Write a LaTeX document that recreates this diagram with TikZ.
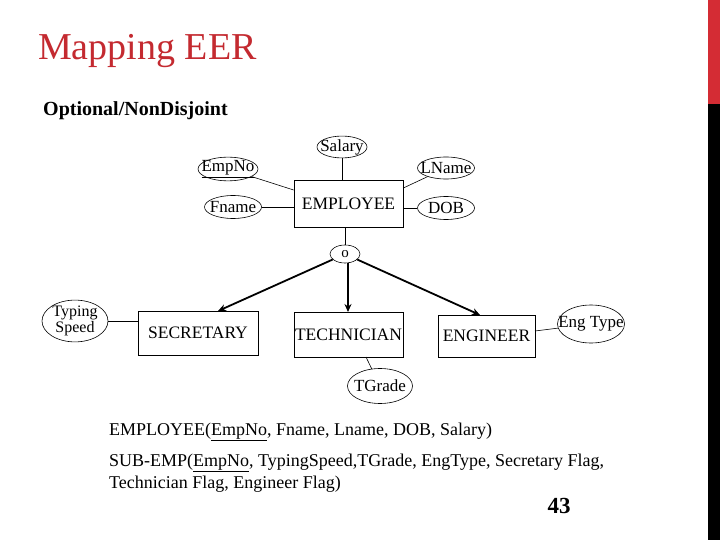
\documentclass[tikz,border=0pt]{standalone}
\usepackage{fontspec}
\setmainfont{Liberation Serif}
\usetikzlibrary{shapes.geometric,arrows.meta}
\definecolor{titlered}{RGB}{196,42,48}
\definecolor{barred}{RGB}{212,44,52}
\tikzset{
  ent/.style={draw, line width=0.7pt, inner sep=0pt, font=\fontsize{17.5}{18}\selectfont},
  attr/.style={draw, ellipse, line width=0.6pt, inner sep=0pt, font=\fontsize{17}{18}\selectfont},
  conn/.style={line width=0.6pt},
  isa/.style={line width=1.8pt, -{Stealth[length=8pt,width=7pt]}},
  body/.style={anchor=west, inner sep=0pt, font=\fontsize{18}{20}\selectfont}
}
\begin{document}
\begin{tikzpicture}[x=1pt,y=-1pt]
\useasboundingbox (0,0) rectangle (720,540);
\fill[white] (0,0) rectangle (720,540);
% side bar
\fill[barred] (708,0) rectangle (720,104);
\fill[black] (708,104) rectangle (720,540);
% title
\node[anchor=base west, inner sep=0pt, text=titlered, font=\fontsize{38}{40}\selectfont] (title) at (38,60) {Mapping EER};
\node[anchor=west, inner sep=0pt, font=\bfseries\fontsize{20}{20}\selectfont] (sub) at (43,111) {Optional/NonDisjoint};
% entities
\node[ent, minimum width=109pt, minimum height=47pt] (emp) at (348.5,203.5) {EMPLOYEE};
\node[ent, minimum width=120pt, minimum height=44pt] (sec) at (198,333) {SECRETARY};
\node[ent, minimum width=109pt, minimum height=45pt] (tech) at (348.5,334.5) {TECHNICIAN};
\node[ent, minimum width=97pt, minimum height=42pt] (eng) at (486.5,336) {ENGINEER};
% attributes
\node[attr, minimum width=50pt, minimum height=21pt] (salary) at (342,147) {\makebox[0pt]{Salary}};
\node[attr, minimum width=60pt, minimum height=22pt] (empno) at (228,169) {\makebox[0pt]{\underline{EmpNo}}};
\node[attr, minimum width=57pt, minimum height=22pt] (lname) at (446,168) {\makebox[0pt]{LName}};
\node[attr, minimum width=57pt, minimum height=23pt] (fname) at (233,207) {\makebox[0pt]{Fname}};
\node[attr, minimum width=57pt, minimum height=23pt] (dob) at (446,208) {\makebox[0pt]{DOB}};
\node[attr, minimum width=30pt, minimum height=18pt, font=\fontsize{15}{16}\selectfont] (o) at (345,254) {o};
\node[attr, minimum width=66pt, minimum height=34pt, align=center, font=\fontsize{16}{13}\selectfont] (typ) at (75,321) {Typing\\Speed};
\node[attr, minimum width=67pt, minimum height=38pt] (engt) at (591,324) {\makebox[0pt]{Eng Type}};
\node[attr, minimum width=65pt, minimum height=35pt] (tgr) at (380,386) {\makebox[0pt]{TGrade}};
% attribute connectors
\draw[conn] (salary) -- (emp.north -| salary);
\draw[conn] (empno) -- (emp.north west |- 0,190);
\draw[conn] (fname) -- (emp.west |- fname);
\draw[conn] (lname) -- (emp.north east |- 0,188);
\draw[conn] (dob) -- (emp.east |- dob);
\draw[conn] (typ) -- (sec.west |- typ);
\coordinate (engr) at (535,331);
\draw[conn] (engr) -- (engt);
\coordinate (techb) at (366,357);
\draw[conn] (techb) -- (tgr);
% specialization
\draw[conn] (emp.south -| o) -- (o);
\coordinate (secin) at (218,311);
\coordinate (techin) at (348,312);
\coordinate (engin) at (480,315);
\draw[isa] (o) -- (secin);
\draw[isa] (o.south -| techin) -- (techin);
\draw[isa] (o) -- (engin);
% relations
\node[body] (r1) at (109,432) {EMPLOYEE(\underline{EmpNo}, Fname, Lname, DOB, Salary)};
\node[body] (r2) at (109,463) {SUB-EMP(\underline{EmpNo}, TypingSpeed,TGrade, EngType, Secretary Flag,};
\node[body] (r3) at (109,484) {Technician Flag, Engineer Flag)};
\node[inner sep=0pt, font=\bfseries\fontsize{23}{24}\selectfont] (num) at (559,506) {43};
\end{tikzpicture}
\end{document}
